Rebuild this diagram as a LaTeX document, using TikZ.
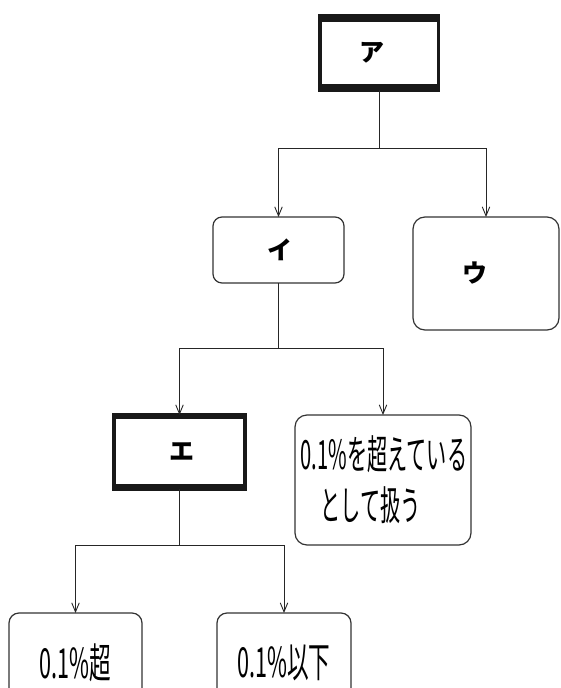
\documentclass[tikz,border=0pt]{standalone}
\usepackage{fontspec}
\setmainfont{Noto Sans CJK JP}
\usetikzlibrary{arrows.meta}
\begin{document}
\begin{tikzpicture}[x=1pt,y=-1pt,
  conn/.style={line width=0.9pt,draw=black!85},
  arr/.style={conn,-{Straight Barb[length=9pt,width=7.5pt]}},
  thickbox/.style={draw=black!90,line width=3.5pt,fill=white,minimum width=#1,inner sep=0pt,outer sep=0pt,font=\fontsize{25pt}{28pt}\selectfont\bfseries},
  rbox/.style={draw=black!80,line width=1.2pt,rounded corners=9pt,inner sep=0pt,outer sep=0pt,fill=white},
  kana/.style={font=\fontsize{25pt}{28pt}\selectfont\bfseries},
  big/.style={font=\fontsize{36pt}{53pt}\selectfont}
]
\useasboundingbox (0,0) rectangle (561,688);
\begin{scope}
\clip (0,0) rectangle (561,688);
% top thick box
\node[thickbox=118.5pt,minimum height=74.5pt] (A) at (379,53) {\hspace*{-14pt}ア};
\fill[black!90] ([xshift=-1.75pt,yshift=1.75pt]A.north west) rectangle ([xshift=1.75pt,yshift=-6pt]A.north east);
\fill[black!90] ([xshift=-1.75pt,yshift=-1.75pt]A.south west) rectangle ([xshift=1.75pt,yshift=6pt]A.south east);
% level 1
\node[rbox,kana,minimum width=131pt,minimum height=66pt] (I) at (278.5,250) {\hspace*{3pt}イ};
\node[rbox,kana,rounded corners=12pt,minimum width=146pt,minimum height=113pt] (U) at (486,273.5) {\hspace*{-22pt}ウ};
\coordinate (jA) at (379,148);
\draw[conn] (A.south) -- (jA);
\draw[arr] (jA) -| (I.north);
\draw[arr] (jA) -| (U.north);
% level 2
\node[thickbox=131pt,minimum height=74pt] (E) at (179.5,452) {\hspace*{4pt}エ};
\fill[black!90] ([xshift=-1.75pt,yshift=1.75pt]E.north west) rectangle ([xshift=1.75pt,yshift=-3.5pt]E.north east);
\fill[black!90] ([xshift=-1.75pt,yshift=-1.75pt]E.south west) rectangle ([xshift=1.75pt,yshift=5pt]E.south east);
\node[rbox,rounded corners=12pt,minimum width=176pt,minimum height=130pt,big,align=left] (T) at (383,480)
  {\hspace*{2pt}\scalebox{0.56}[1.12]{0.1\%を超えている}\\[-2pt]\hspace*{22pt}\scalebox{0.56}[1.12]{として扱う}};
\coordinate (jI) at (278.5,348);
\draw[conn] (I.south) -- (jI);
\draw[arr] (jI) -| (E.north);
\draw[arr] (jI) -| (T.north);
% level 3
\node[rbox,rounded corners=10pt,minimum width=133pt,minimum height=100pt,anchor=north,big] (P) at (75.5,613) {\raisebox{-4pt}{\scalebox{0.6}[1.15]{0.1\%超}}};
\node[rbox,rounded corners=10pt,minimum width=134pt,minimum height=100pt,anchor=north,big] (Q) at (284,613) {\raisebox{-4pt}{\scalebox{0.6}[1.15]{0.1\%以下}}};
\coordinate (jE) at (179.5,545);
\draw[conn] (E.south) -- (jE);
\draw[arr] (jE) -| (P.north);
\draw[arr] (jE) -| (Q.north);
\end{scope}
\end{tikzpicture}
\end{document}
